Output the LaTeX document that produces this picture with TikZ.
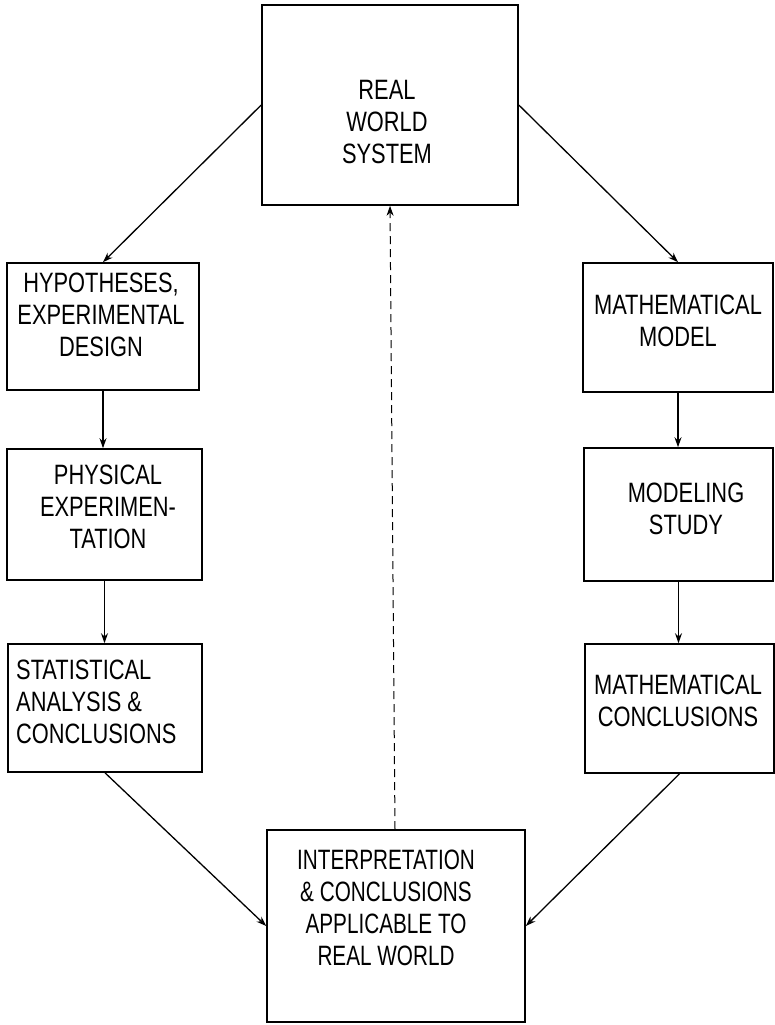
\documentclass[tikz,border=0pt]{standalone}
\usepackage{fontspec}
\newfontfamily\boxfont[FakeStretch=0.78]{Liberation Sans}
\newfontfamily\boxfontn[FakeStretch=0.74]{Liberation Sans}
\usetikzlibrary{arrows.meta}
\begin{document}
\begin{tikzpicture}[x=1pt,y=-1pt,
  box/.style={draw,line width=1.6pt,inner sep=0pt},
  txt/.style={inner sep=0pt,anchor=north,align=center,font=\boxfont\fontsize{28}{32}\selectfont},
  link/.style={line width=1.3pt,-{Stealth[length=10pt,width=7pt]}},
  back/.style={line width=1pt,dash pattern=on 8pt off 5pt,-{Stealth[length=10pt,width=7pt]}}]
\useasboundingbox (0,0) rectangle (775,1025);
% boxes
\node[box,minimum width=256pt,minimum height=200pt] (top) at (390,105) {};
\node[box,minimum width=192pt,minimum height=127pt] (l1) at (103,326.5) {};
\node[box,minimum width=195pt,minimum height=131pt] (l2) at (104.5,514.5) {};
\node[box,minimum width=194pt,minimum height=128pt] (l3) at (105,708) {};
\node[box,minimum width=190pt,minimum height=129pt] (r1) at (678,327.5) {};
\node[box,minimum width=189pt,minimum height=133pt] (r2) at (678.5,514.5) {};
\node[box,minimum width=189pt,minimum height=129pt] (r3) at (679.5,708.5) {};
\node[box,minimum width=258pt,minimum height=192pt] (bot) at (396,926) {};
% texts
\node[txt] (ttop) at (387,80) {REAL\\WORLD\\SYSTEM};
\node[txt] (tl1) at (101,273) {HYPOTHESES,\\EXPERIMENTAL\\DESIGN};
\node[txt] (tl2) at (108,465) {PHYSICAL\\EXPERIMEN-\\TATION};
\node[txt,anchor=north west,align=left] (tl3) at (16,660) {STATISTICAL\\ANALYSIS \&\\CONCLUSIONS};
\node[txt] (tr1) at (678,295) {MATHEMATICAL\\MODEL};
\node[txt] (tr2) at (686,483) {MODELING\\STUDY};
\node[txt] (tr3) at (678,675) {MATHEMATICAL\\CONCLUSIONS};
\node[txt,font=\boxfontn\fontsize{28}{32}\selectfont] (tbot) at (386,850) {INTERPRETATION\\\& CONCLUSIONS\\APPLICABLE TO\\REAL WORLD};
% connectors
\draw[link] (top.west) -- (l1.north);
\draw[link] (top.east) -- (r1.north);
\draw[link] (l1.south) -- (l1.south |- l2.north);
\draw[link] (l2.south) -- (l2.south |- l3.north);
\draw[link] (r1.south) -- (r1.south |- r2.north);
\draw[link] (r2.south) -- (r2.south |- r3.north);
\draw[link] (l3.south) -- (bot.west);
\draw[link] (r3.south) -- (bot.east);
\draw[back] ([xshift=-1pt]bot.north) -- (top.south);
\end{tikzpicture}
\end{document}
